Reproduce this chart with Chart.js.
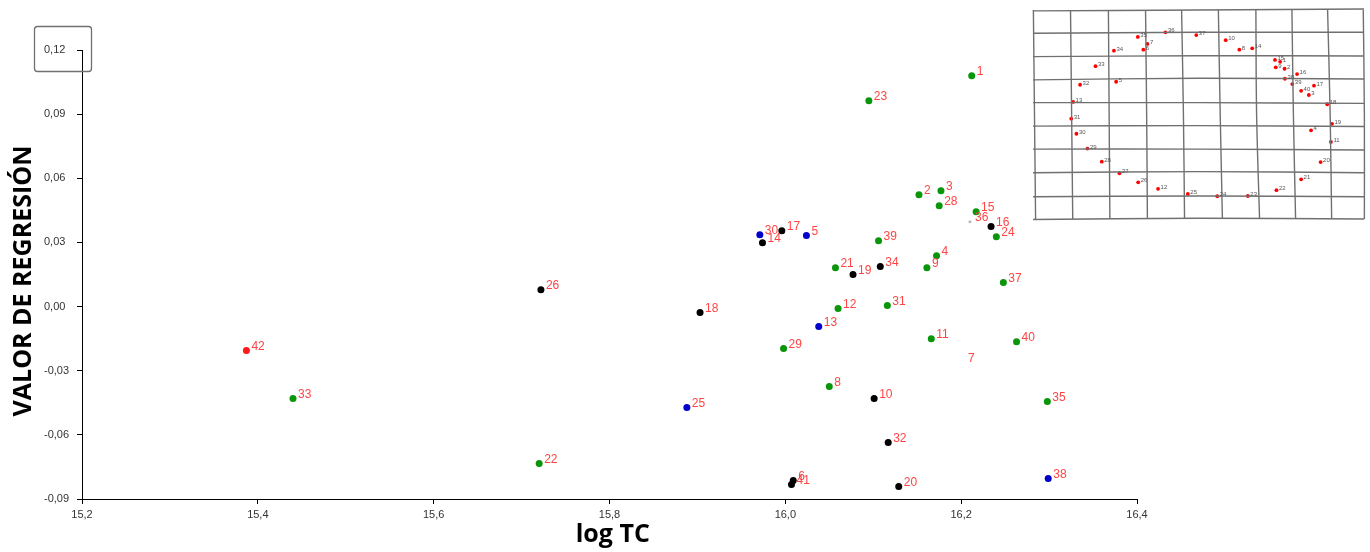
<!DOCTYPE html>
<html>
<head>
<meta charset="utf-8">
<script src="https://cdn.jsdelivr.net/npm/chart.js@4.4.1/dist/chart.umd.min.js"></script>
<style>
  html, body { margin: 0; padding: 0; background: #fff; overflow: hidden; }
  #wrap { position: relative; width: 1370px; height: 552px; }
  #main { position: absolute; left: 0; top: 0; }
  #inset { position: absolute; left: 1030px; top: 5px; filter: blur(0.45px); }
</style>
</head>
<body>
<div id="wrap">
  <canvas id="main" width="1370" height="552"></canvas>
  <canvas id="inset" width="340" height="220"></canvas>
</div>
<script>
// ---- Observations: id, log TC, regression value, group ----
// groups: V = verde, N = negro, A = azul, R = rojo, G = gris (casi oculto), S = sin marca
const ids = [1, 2, 3, 4, 5, 6, 7, 8, 9, 10, 11, 12, 13, 14, 15, 16, 17, 18, 19, 20, 21,
             22, 23, 24, 25, 26, 28, 29, 30, 31, 32, 33, 34, 35, 36, 37, 38, 39, 40, 41, 42];
const logTC = [16.212, 16.152, 16.177, 16.172, 16.024, 16.009, 16.202, 16.050, 16.161, 16.101, 16.166,
               16.060, 16.038, 15.974, 16.217, 16.234, 15.996, 15.903, 16.077, 16.129, 16.057,
               15.720, 16.095, 16.240, 15.888, 15.722, 16.175, 15.998, 15.971, 16.116, 16.117,
               15.440, 16.108, 16.298, 16.210, 16.248, 16.299, 16.106, 16.263, 16.007, 15.387];
const valorRegresion = [0.1079, 0.0523, 0.0542, 0.0238, 0.0332, -0.0813, -0.0262, -0.0374, 0.0182, -0.0430, -0.0150,
                        -0.0009, -0.0093, 0.0299, 0.0444, 0.0374, 0.0355, -0.0028, 0.0150, -0.0841, 0.0182,
                        -0.0734, 0.0963, 0.0327, -0.0472, 0.0079, 0.0472, -0.0196, 0.0336, 0.0005, -0.0636,
                        -0.0430, 0.0187, -0.0444, 0.0397, 0.0112, -0.0804, 0.0308, -0.0164, -0.0832, -0.0206];
const grupo = ['V', 'V', 'V', 'V', 'A', 'N', 'S', 'V', 'V', 'N', 'V',
               'V', 'A', 'N', 'V', 'N', 'N', 'N', 'N', 'N', 'V',
               'V', 'V', 'V', 'A', 'N', 'V', 'V', 'A', 'V', 'N',
               'V', 'N', 'V', 'G', 'V', 'A', 'V', 'V', 'N', 'R'];

// ---- Axis ticks ----
const xTicks = [15.2, 15.4, 15.6, 15.8, 16.0, 16.2, 16.4];
const yTicks = [-0.09, -0.06, -0.03, 0.00, 0.03, 0.06, 0.09, 0.12];

// ---- Landmark configuration drawn on the deformation grid (grid units) ----
const landmarkIds = [35, 36, 37, 7, 6, 34, 10, 8, 14, 33, 5, 32, 13, 31, 30, 29, 28, 27, 26, 12,
                     25, 24, 23, 22, 21, 20, 11, 4, 19, 18, 3, 40, 17, 39, 16, 38, 2, 9, 15, 1];
const landmarkU = [2.85, 3.60, 4.44, 3.11, 3.00, 2.20, 5.24, 5.61, 5.96, 1.70, 2.26, 1.28, 1.09, 1.04, 1.18, 1.48, 1.87, 2.35, 2.86, 3.40,
                   4.21, 5.01, 5.84, 6.62, 7.29, 7.82, 8.10, 7.56, 8.13, 8.00, 7.50, 7.29, 7.64, 7.05, 7.18, 6.85, 6.84, 6.60, 6.58, 6.72];
const landmarkV = [1.16, 0.96, 1.08, 1.46, 1.71, 1.75, 1.30, 1.71, 1.65, 2.42, 3.09, 3.22, 3.96, 4.68, 5.33, 5.97, 6.53, 7.03, 7.42, 7.70,
                   7.92, 8.02, 8.01, 7.76, 7.29, 6.55, 5.68, 5.18, 4.90, 4.06, 3.66, 3.48, 3.26, 3.19, 2.76, 2.96, 2.53, 2.47, 2.15, 2.23];

// Deformed grid: each vertical line's u at top / middle / bottom,
// each horizontal line's v at left / middle / right
const gridColumnsU = [[0.01, 0.04, 0.07], [1.02, 1.05, 1.08], [2.05, 2.07, 2.09], [3.06, 3.09, 3.11], [4.04, 4.09, 4.12],
                      [5.04, 5.09, 5.15], [6.06, 6.08, 6.16], [7.04, 7.08, 7.14], [8.01, 8.08, 8.12], [8.98, 9.01, 9.01]];
const gridRowsV = [[0.04, 0.00, -0.04], [1.00, 0.96, 0.96], [2.01, 1.97, 1.98], [3.01, 2.94, 2.97], [3.99, 3.99, 4.02],
                   [5.00, 4.98, 5.02], [5.99, 5.99, 6.03], [7.01, 6.96, 7.01], [8.04, 8.01, 8.04], [9.02, 8.97, 9.00]];

// ---- Styling ----
const groupStyle = {
  V: { color: '#0a960a', radius: 3.5 },
  N: { color: '#000000', radius: 3.5 },
  A: { color: '#0000cc', radius: 3.5 },
  R: { color: '#ff1a1a', radius: 3.5 },
  G: { color: '#b8b8b8', radius: 1.5 },
  S: { color: 'rgba(0,0,0,0)', radius: 0 }
};

const fmt = (v, d) => v.toFixed(d).replace('.', ',').replace(/^-0,0+$/, '0,00');

// Build one scatter dataset per group
const datasets = Object.keys(groupStyle).map(g => ({
  label: g,
  data: ids.map((id, i) => ({ x: logTC[i], y: valorRegresion[i], id, g: grupo[i] })).filter(p => p.g === g),
  backgroundColor: groupStyle[g].color,
  borderWidth: 0,
  pointRadius: groupStyle[g].radius,
  pointHoverRadius: groupStyle[g].radius
}));

// Draws the observation number next to every point
const pointLabels = {
  id: 'pointLabels',
  afterDatasetsDraw(chart, args, opts) {
    const ctx = chart.ctx;
    ctx.save();
    ctx.font = opts.font;
    ctx.fillStyle = opts.color;
    ctx.textAlign = 'left';
    ctx.textBaseline = 'middle';
    chart.data.datasets.forEach((ds, di) => {
      const meta = chart.getDatasetMeta(di);
      meta.data.forEach((el, i) => {
        ctx.fillText(String(ds.data[i].id), el.x + opts.dx, el.y + opts.dy);
      });
    });
    ctx.restore();
  }
};

// Empty legend frame in the upper-left corner
const legendFrame = {
  id: 'legendFrame',
  afterDraw(chart) {
    const ctx = chart.ctx;
    ctx.save();
    ctx.strokeStyle = '#707070';
    ctx.lineWidth = 1.3;
    ctx.beginPath();
    ctx.roundRect(34.5, 26.5, 57, 45, 3);
    ctx.stroke();
    ctx.restore();
  }
};

new Chart(document.getElementById('main'), {
  type: 'scatter',
  data: { datasets },
  plugins: [pointLabels, legendFrame],
  options: {
    responsive: false,
    animation: false,
    devicePixelRatio: 1,
    layout: { padding: { left: 44, top: 50, right: 233, bottom: 0 } },
    plugins: {
      legend: { display: false },
      tooltip: { enabled: false },
      pointLabels: { font: '12px "Liberation Sans", Arial, sans-serif', color: '#ff4444', dx: 5, dy: -4 }
    },
    scales: {
      x: {
        type: 'linear',
        min: 15.2,
        max: 16.4,
        afterFit(s) { s.height = 53; },
        afterBuildTicks(s) { s.ticks = xTicks.map(v => ({ value: v })); },
        ticks: {
          callback: v => fmt(v, 1),
          font: { family: 'Liberation Sans', size: 11 },
          color: '#333',
          padding: 4,
          maxRotation: 0,
          autoSkip: false
        },
        grid: { drawOnChartArea: false, drawTicks: true, tickLength: 5, color: '#000' },
        border: { color: '#000', width: 1 },
        title: {
          display: true,
          text: ' log TC',
          color: '#000',
          font: { family: 'Open Sans', size: 25, weight: 'bold' },
          padding: { top: 0, bottom: 2 }
        }
      },
      y: {
        type: 'linear',
        min: -0.09,
        max: 0.12,
        afterFit(s) { s.width = 38; },
        afterBuildTicks(s) { s.ticks = yTicks.map(v => ({ value: v })); },
        ticks: {
          callback: v => fmt(v, 2),
          font: { family: 'Liberation Sans', size: 11 },
          color: '#333',
          crossAlign: 'far',
          autoSkip: false
        },
        grid: { drawOnChartArea: false, drawTicks: true, tickLength: 5, color: '#000' },
        border: { color: '#000', width: 1 },
        title: {
          display: true,
          text: 'VALOR DE REGRESIÓN  ',
          color: '#000',
          font: { family: 'Open Sans', size: 25, weight: 'bold' },
          padding: { top: -35, bottom: 0 }
        }
      }
    }
  }
});

// ---- Deformation grid with landmarks ----
const gridSets = [];
gridColumnsU.forEach(u => gridSets.push({
  data: [{ x: u[0], y: 0 }, { x: u[1], y: 4.5 }, { x: u[2], y: 9 }],
  showLine: true, borderColor: '#707070', borderWidth: 1.4, pointRadius: 0, pointHoverRadius: 0, tension: 0.35, fill: false
}));
gridRowsV.forEach(v => gridSets.push({
  data: [{ x: 0, y: v[0] }, { x: 4.5, y: v[1] }, { x: 9, y: v[2] }],
  showLine: true, borderColor: '#707070', borderWidth: 1.4, pointRadius: 0, pointHoverRadius: 0, tension: 0.35, fill: false
}));
gridSets.push({
  data: landmarkIds.map((id, i) => ({ x: landmarkU[i], y: landmarkV[i], id })),
  backgroundColor: '#ff0000',
  borderWidth: 0,
  pointRadius: 1.9,
  pointHoverRadius: 1.9,
  showLine: false,
  landmarks: true
});

const landmarkLabels = {
  id: 'landmarkLabels',
  afterDatasetsDraw(chart) {
    const ctx = chart.ctx;
    ctx.save();
    ctx.font = '6px "Liberation Sans", Arial, sans-serif';
    ctx.fillStyle = '#555';
    ctx.textAlign = 'left';
    ctx.textBaseline = 'middle';
    chart.data.datasets.forEach((ds, di) => {
      if (!ds.landmarks) return;
      chart.getDatasetMeta(di).data.forEach((el, i) => {
        ctx.fillText(String(ds.data[i].id), el.x + 2.5, el.y - 1.5);
      });
    });
    ctx.restore();
  }
};

new Chart(document.getElementById('inset'), {
  type: 'scatter',
  data: { datasets: gridSets },
  plugins: [landmarkLabels],
  options: {
    responsive: false,
    animation: false,
    devicePixelRatio: 1,
    layout: { padding: 0, autoPadding: false },
    plugins: { legend: { display: false }, tooltip: { enabled: false } },
    scales: {
      x: { type: 'linear', display: false, min: -0.082, max: 9.163 },
      y: { type: 'linear', display: false, min: -0.215, max: 9.259, reverse: true }
    }
  }
});
</script>
</body>
</html>
